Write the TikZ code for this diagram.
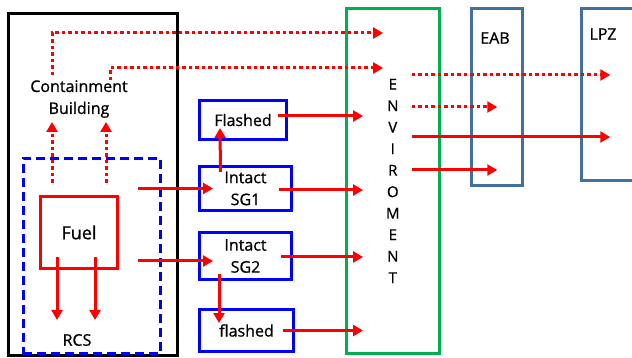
\documentclass[tikz,border=0pt]{standalone}
\usepackage{fontspec}
\setmainfont{Open Sans}[FakeBold=0.9]
\usetikzlibrary{arrows.meta,positioning}
\definecolor{envGreen}{RGB}{0,176,80}
\definecolor{zoneBlue}{RGB}{65,113,156}

\begin{document}
\begin{tikzpicture}[
    x=1pt, y=-1pt,
    font=\fontsize{16}{22}\selectfont,
    box/.style={rectangle, draw=blue, line width=3pt, align=center, inner sep=2pt},
    zone/.style={rectangle, draw=zoneBlue, line width=2.5pt},
    arrow/.style={-{Triangle[length=10pt,width=11pt]}, red, line width=3pt},
    dotarrow/.style={arrow, dash pattern=on 3.5pt off 3pt}
]
    \useasboundingbox (0,0) rectangle (632,358);
    \clip (0,0) rectangle (632,358);

    % Containment and RCS
    \node[rectangle, draw, line width=3pt, minimum width=169pt, minimum height=342pt] (cont) at (93,184.5) {};
    \node[rectangle, draw=blue, line width=3pt, dash pattern=on 9pt off 5pt, minimum width=137.5pt, minimum height=195pt] (rcsbox) at (92,256) {};
    \node[rectangle, draw=red, line width=3pt, minimum width=77pt, minimum height=72pt, font=\fontsize{18}{22}\selectfont] (fuel) at (79,232.5) {Fuel};
    \node[inner sep=0pt, align=center] (cb) at (79,99) {Containment\\Building};
    \node[inner sep=0pt] (rcs) at (77,340) {RCS};

    % Steam generators
    \node[box, minimum width=87pt, minimum height=39pt] (flash1) at (243,120) {Flashed};
    \node[box, minimum width=92pt, minimum height=44pt] (sg1) at (245.5,188.5) {Intact\\SG1};
    \node[box, minimum width=92pt, minimum height=47pt] (sg2) at (245.5,256) {Intact\\SG2};
    \node[box, minimum width=94pt, minimum height=42pt] (flash2) at (246.5,330.5) {flashed};

    % Environment and zones
    \node[rectangle, draw=envGreen, line width=3pt, minimum width=92.5pt, minimum height=345pt, align=center, font=\fontsize{15}{21.5}\selectfont] (env) at (392.8,181) {E\\N\\V\\I\\R\\O\\M\\E\\N\\T};
    \node[zone, minimum width=51pt, minimum height=177pt] (eab) at (497,97) {};
    \node[zone, minimum width=78.5pt, minimum height=172pt] (lpz) at (620.75,94.5) {};
    \node (eablbl) at (495,38) {EAB};
    \node (lpzlbl) at (603,34) {LPZ};

    % Release from fuel
    \draw[arrow] ([xshift=-22pt,yshift=13pt]fuel.south) -- ([xshift=-20pt,yshift=14pt]rcs.north);
    \draw[arrow] ([xshift=16pt,yshift=13pt]fuel.south) -- ([xshift=18pt,yshift=14pt]rcs.north);
    \draw[dotarrow] ([xshift=-40pt,yshift=-26pt]rcsbox.north) -- ([xshift=-27pt,yshift=-4pt]cb.south);
    \draw[dotarrow] ([xshift=14pt,yshift=-26pt]rcsbox.north) -- ([xshift=27pt,yshift=-4pt]cb.south);
    \draw[arrow] ([xshift=19pt]fuel.east |- sg1.west) -- ([xshift=15pt]sg1.west);
    \draw[arrow] ([xshift=19pt,yshift=-5pt]fuel.east |- sg2.west) -- ([xshift=15pt,yshift=-5pt]sg2.west);

    % Between steam generators
    \draw[arrow] ([xshift=-25pt,yshift=-7pt]sg1.north) -- ([xshift=-23pt,yshift=13pt]flash1.south);
    \draw[arrow] ([xshift=-26.5pt,yshift=7pt]sg2.south) -- ([xshift=-27.5pt,yshift=-15pt]flash2.north);

    % Into the environment
    \draw[dotarrow] ([xshift=-27pt,yshift=5pt]cb.north) |- ([xshift=38pt]env.west |- 0,33);
    \draw[dotarrow] ([xshift=31pt]cb.north) |- ([xshift=38pt]env.west |- 0,68);
    \draw[arrow] ([xshift=-10pt,yshift=4pt]flash1.east) -- ([xshift=18pt,yshift=4pt]env.west |- flash1.east);
    \draw[arrow] ([xshift=-14pt,yshift=-1.5pt]sg1.east) -- ([xshift=18pt,yshift=-1.5pt]env.west |- sg1.east);
    \draw[arrow] ([xshift=-12pt,yshift=-1pt]sg2.east) -- ([xshift=18pt,yshift=-1pt]env.west |- sg2.east);
    \draw[arrow] ([xshift=-12pt]flash2.east) -- ([xshift=18pt]env.west |- flash2.east);

    % Out to EAB and LPZ
    \draw[dotarrow] ([xshift=19pt]env.center |- 0,75) -- ([xshift=30pt]lpz.west |- 0,75);
    \draw[dotarrow] ([xshift=19pt]env.center |- 0,107) -- ([xshift=27pt]eab.west |- 0,107);
    \draw[arrow] ([xshift=19pt]env.center |- 0,137) -- ([xshift=30pt]lpz.west |- 0,137);
    \draw[arrow] ([xshift=19pt]env.center |- 0,170) -- ([xshift=27pt]eab.west |- 0,170);
\end{tikzpicture}
\end{document}
